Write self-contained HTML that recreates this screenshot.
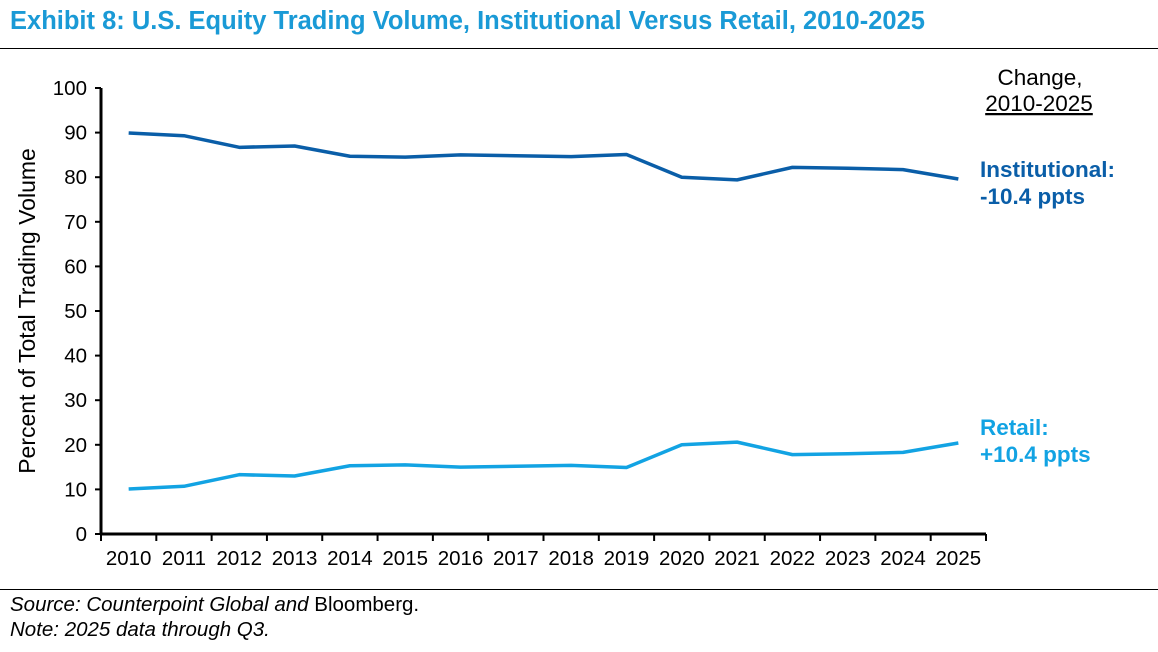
<!DOCTYPE html>
<html><head><meta charset="utf-8"><style>
body{margin:0;background:#fff;font-family:"Liberation Sans",Arial,sans-serif;}
#wrap{position:relative;width:1158px;height:652px;overflow:hidden;}
</style></head><body>
<div id="wrap">
<div style="position:absolute;left:10px;top:7px;font-size:25.5px;font-weight:bold;color:#1a9ad6;white-space:nowrap;">Exhibit 8: U.S. Equity Trading Volume, Institutional Versus Retail, 2010-2025</div>
<div style="position:absolute;left:0;top:48px;width:1158px;height:1px;background:#000;"></div>
<svg id="chart" width="1158" height="652" style="position:absolute;left:0;top:0;" font-family="Liberation Sans, Arial, sans-serif"></svg>
<div style="position:absolute;left:0;top:589px;width:1158px;height:1px;background:#000;"></div>
<div style="position:absolute;left:10px;top:592px;font-size:20.5px;line-height:25px;white-space:nowrap;"><i>Source: Counterpoint Global and</i> Bloomberg.<br><i>Note: 2025 data through Q3.</i></div>
</div>
<script>
const years=["2010","2011","2012","2013","2014","2015","2016","2017","2018","2019","2020","2021","2022","2023","2024","2025"];
const institutional=[89.9,89.3,86.7,87.0,84.7,84.5,85.0,84.8,84.6,85.1,80.0,79.4,82.2,82.0,81.7,79.6];
const retail=[10.1,10.7,13.3,13.0,15.3,15.5,15.0,15.2,15.4,14.9,20.0,20.6,17.8,18.0,18.3,20.4];
const yTicks=[0,10,20,30,40,50,60,70,80,90,100];
const svg=document.getElementById('chart');
const NS='http://www.w3.org/2000/svg';
const x0=101,x1=986,y0=534,y1=88;
const bw=(x1-x0)/years.length;
const xs=i=>x0+bw*(i+0.5);
const ys=v=>y0-(v/100)*(y0-y1);
function mk(t,a){const e=document.createElementNS(NS,t);for(const k in a)e.setAttribute(k,a[k]);svg.appendChild(e);return e;}
let e;
e=mk('line',{x1:x0,y1:y1,x2:x0,y2:y0+1,stroke:'#000','stroke-width':3});


e=mk('line',{x1:x0-1,y1:y0,x2:x1,y2:y0,stroke:'#000','stroke-width':3});


yTicks.forEach(v=>{
 e=mk('line',{x1:x0-6,y1:ys(v),x2:x0,y2:ys(v),stroke:'#000','stroke-width':2});
 
 
 e=mk('text',{x:x0-14,y:ys(v)+7,'text-anchor':'end','font-size':20.5});e.textContent=v;
 
 
});
for(let i=0;i<=years.length;i++){
 e=mk('line',{x1:x0+bw*i,y1:y0,x2:x0+bw*i,y2:y0+7,stroke:'#000','stroke-width':2});
 
 
}
years.forEach((y,i)=>{
 e=mk('text',{x:xs(i),y:y0+31,'text-anchor':'middle','font-size':20.5});e.textContent=y;
 
 
});
e=mk('text',{x:0,y:0,transform:'translate(35,311) rotate(-90)','text-anchor':'middle','font-size':23});e.textContent='Percent of Total Trading Volume';


function line(d,c,n){
 e=mk('polyline',{points:d.map((v,i)=>xs(i)+','+ys(v)).join(' '),fill:'none',stroke:c,'stroke-width':3.5,'stroke-linejoin':'round'});
 
 
}
line(institutional,'#0a5ea8','institutional-line');
line(retail,'#12a3e3','retail-line');
function txt(x,y,s,a,n){e=mk('text',Object.assign({x:x,y:y},a));e.textContent=s;
 
 }
txt(1040,85,'Change,',{'text-anchor':'middle','font-size':22.5},'change-header');
txt(1039,111,'2010-2025',{'text-anchor':'middle','font-size':22.5,'text-decoration':'underline'},'change-period');
txt(980,177,'Institutional:',{'font-size':22.5,'font-weight':'bold',fill:'#0a5ea8'},'institutional-label');
txt(980,204,'-10.4 ppts',{'font-size':22.5,'font-weight':'bold',fill:'#0a5ea8'},'institutional-change');
txt(980,435,'Retail:',{'font-size':22.5,'font-weight':'bold',fill:'#12a3e3'},'retail-label');
txt(980,462,'+10.4 ppts',{'font-size':22.5,'font-weight':'bold',fill:'#12a3e3'},'retail-change');
</script>
</body></html>
